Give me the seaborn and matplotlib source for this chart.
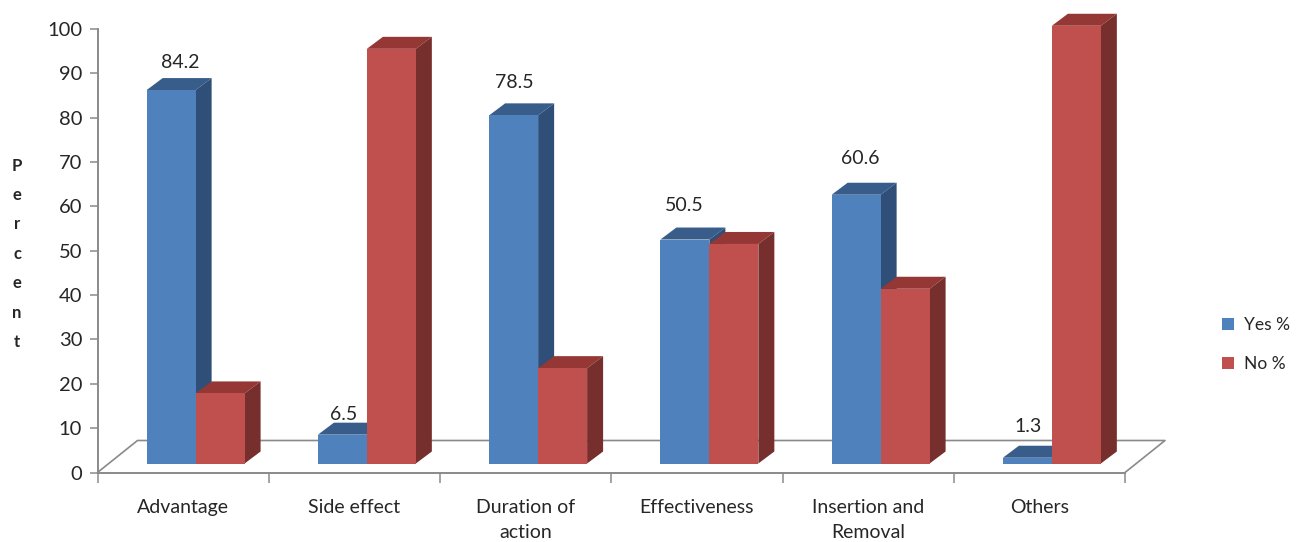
import matplotlib
matplotlib.use('Agg')
import matplotlib.pyplot as plt
from matplotlib.patches import Polygon
import pandas as pd
import seaborn as sns

categories = ['Advantage', 'Side effect', 'Duration of\naction', 'Effectiveness',
              'Insertion and\nRemoval', 'Others']
yes_pct = [84.2, 6.5, 78.5, 50.5, 60.6, 1.3]
no_pct = [15.8, 93.5, 21.5, 49.5, 39.4, 98.7]
series_names = ['Yes %', 'No %']
y_ticks = list(range(0, 101, 10))

front_colors = ['#4F81BD', '#C0504D']
top_colors = ['#385D8A', '#953735']
side_colors = ['#2F4F78', '#772F2D']
grey = '#8A8A8A'
text_color = '#262626'

data = pd.DataFrame({
    'category': categories * 2,
    'series': [series_names[0]] * 6 + [series_names[1]] * 6,
    'value': yes_pct + no_pct,
})

sns.set_theme(style='white')
plt.rcParams['font.family'] = ['Lato', 'DejaVu Sans']
plt.rcParams['text.color'] = text_color

W, H = 1297, 542
fig = plt.figure(figsize=(W / 100, H / 100), dpi=100)
ax = fig.add_axes([97.5 / W, 1 - 472.5 / H, (1125 - 97.5) / W, (472.5 - 29) / H])

sns.barplot(data=data, x='category', y='value', hue='series', hue_order=series_names,
            palette=front_colors, saturation=1, width=0.572, gap=0, linewidth=0,
            zorder=3, ax=ax)

ax.set_xlim(-0.5, 5.5)
ax.set_ylim(0, 100)

# pixels -> data units
px_x = 6 / (1125 - 97.5)
px_y = 100 / (472.5 - 29)
depth_x = 16 * px_x
depth_y = 12 * px_y
floor_y = 9 * px_y
shift_x = 12.5 * px_x

# bars stand on the floor, and get fake 3d faces
for i, container in enumerate(ax.containers):
    for bar in container:
        bar.set_x(bar.get_x() + shift_x)
        bar.set_y(floor_y)
        bar.set_clip_on(False)
        x0, x1 = bar.get_x(), bar.get_x() + bar.get_width()
        y0, y1 = floor_y, floor_y + bar.get_height()
        ax.add_patch(Polygon([(x0, y1), (x1, y1), (x1 + depth_x, y1 + depth_y), (x0 + depth_x, y1 + depth_y)],
                             fc=top_colors[i], lw=0, zorder=2 + i * 0.5, clip_on=False))
        ax.add_patch(Polygon([(x1, y0), (x1, y1), (x1 + depth_x, y1 + depth_y), (x1 + depth_x, y0 + depth_y)],
                             fc=side_colors[i], lw=0, zorder=2 + i * 0.5, clip_on=False))

# value labels, only on Yes
label_nudge = [(9, 28), (1, 20), (1, 33), (-1, 34), (4, 36), (1, 31)]
for bar, val, (nx, ny) in zip(ax.containers[0], yes_pct, label_nudge):
    ax.annotate(str(val), (bar.get_x() + bar.get_width() / 2, floor_y + bar.get_height()),
                xytext=(nx * 0.72, ny * 0.72), textcoords='offset points',
                ha='center', va='center', fontsize=14, color=text_color, zorder=5)

# floor of the 3d box
slant_x = 40 * px_x
slant_y = 32 * px_y
ax.plot([-0.5, -0.5 + slant_x, 5.5 + slant_x, 5.5], [0, slant_y, slant_y, 0],
        color=grey, lw=1.2, clip_on=False, zorder=1)

sns.despine(ax=ax, right=True, top=True)
for side in ['left', 'bottom']:
    ax.spines[side].set_color(grey)
    ax.spines[side].set_linewidth(1.4)

ax.set_yticks(y_ticks)
ax.tick_params(axis='y', length=6, width=1.1, color=grey, left=True, labelsize=14.5,
               labelcolor=text_color, pad=5)
ax.set_xticks(range(6))
ax.set_xticklabels(categories)
ax.set_xticks([k - 0.5 for k in range(7)], minor=True)
ax.tick_params(axis='x', which='major', length=0, labelsize=14, labelcolor=text_color, pad=19)
ax.tick_params(axis='x', which='minor', length=7, width=1.1, color=grey, bottom=True)
for tick in ax.get_xticklabels():
    tick.set_linespacing(1.55)
    tick.set_va('top')

ax.set_xlabel('')
ax.set_ylabel('\n'.join('Percent'), rotation=0, fontsize=12, fontweight='bold',
              linespacing=2.03, va='center', ha='center', color=text_color)
ax.yaxis.set_label_coords((17 - 97.5) / (1125 - 97.5), 0.493)

sns.move_legend(ax, 'center left', bbox_to_anchor=(1206 / W, 1 - 344.5 / H),
                bbox_transform=fig.transFigure, title=None, frameon=False, fontsize=12.5,
                handlelength=0.7, handleheight=0.7, handletextpad=0.6, labelspacing=1.3)

fig.savefig('out.png', dpi=100)
